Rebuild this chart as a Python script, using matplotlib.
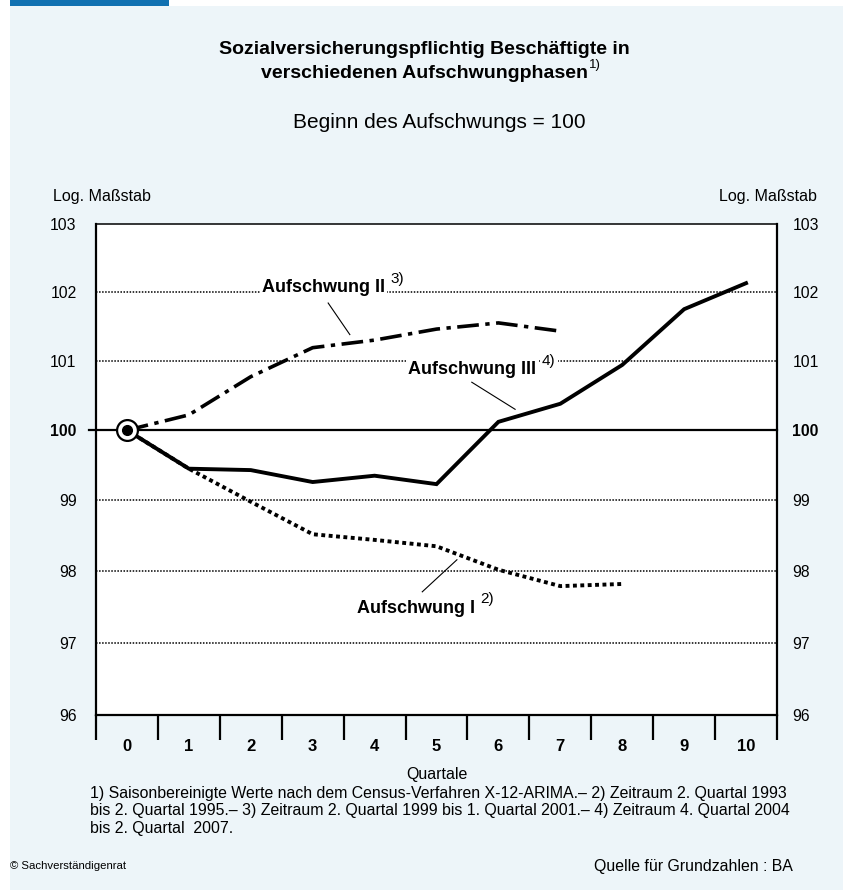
import matplotlib
matplotlib.use("Agg")
import matplotlib.pyplot as plt
from matplotlib.patches import Rectangle
from matplotlib.ticker import FixedLocator, NullLocator, NullFormatter

plt.rcParams["font.family"] = ["Liberation Sans", "DejaVu Sans"]

# quarters after start of upswing
quarters = list(range(11))
quarter_labels = [str(q) for q in quarters]

# index values, start of upswing = 100
aufschwung_1 = [100.0, 99.45, 98.98, 98.52, 98.44, 98.35, 98.02, 97.79, 97.82]
aufschwung_2 = [100.0, 100.22, 100.77, 101.19, 101.30, 101.46, 101.55, 101.43]
aufschwung_3 = [100.0, 99.45, 99.43, 99.26, 99.35, 99.23, 100.12, 100.38, 100.94, 101.75, 102.13]

y_ticks = [96, 97, 98, 99, 100, 101, 102, 103]
grid_levels = [97, 98, 99, 101, 102]

BG = "#edf5f9"
BLUE = "#1171b1"

fig = plt.figure(figsize=(8.43, 8.90), dpi=100, facecolor="white")
# light background panel and blue tab
fig.patches.append(Rectangle((10 / 843, 0), 1, 1 - 6 / 890, transform=fig.transFigure,
                             facecolor=BG, edgecolor="none", zorder=-10))
fig.patches.append(Rectangle((10 / 843, 1 - 6 / 890), 159 / 843, 6 / 890, transform=fig.transFigure,
                             facecolor=BLUE, edgecolor="none", zorder=-10))

ax = fig.add_axes([96 / 843, 1 - 715 / 890, 681 / 843, 491 / 890])
ax.set_facecolor("white")
ax.set_yscale("log")
ax.set_ylim(96, 103)
ax.set_xlim(-0.5, 10.5)

# grid lines
for lv in grid_levels:
    ax.axhline(lv, color="black", lw=1.1, ls=(0, (1, 1)), zorder=1)
ax.plot([-0.62, 10.5], [100, 100], color="black", lw=1.6, clip_on=False, zorder=2)

# series
ax.plot(quarters[:len(aufschwung_1)], aufschwung_1, color="black", lw=2.8,
        ls=(0, (1, 0.9)), dash_capstyle="butt", zorder=3)
ax.plot(quarters[:len(aufschwung_2)], aufschwung_2, color="black", lw=2.6,
        ls=(0, (6, 1.8, 1.2, 1.8)), dash_capstyle="butt", zorder=3)
ax.plot(quarters[:len(aufschwung_3)], aufschwung_3, color="black", lw=2.8,
        solid_joinstyle="miter", zorder=3)

# start marker
ax.plot([0], [100], marker="o", ms=15, mfc="white", mec="black", mew=1.6, zorder=5)
ax.plot([0], [100], marker="o", ms=7, mfc="black", mec="black", zorder=6)

# spines
for s in ["left", "right", "bottom"]:
    ax.spines[s].set_linewidth(1.6)
ax.spines["top"].set_linewidth(1.1)
ax.spines["top"].set_linestyle((0, (1, 1)))


def style_y(a):
    a.set_yscale("log")
    a.set_ylim(96, 103)
    a.yaxis.set_major_locator(FixedLocator(y_ticks))
    a.yaxis.set_minor_locator(NullLocator())
    a.yaxis.set_minor_formatter(NullFormatter())
    a.set_yticklabels([str(t) for t in y_ticks])
    for lab in a.get_yticklabels():
        if lab.get_text() == "100":
            lab.set_fontweight("bold")


# y axis labels on both sides
style_y(ax)
ax.tick_params(axis="y", which="both", length=0, labelsize=11.3, pad=14)
ax2 = ax.twinx()
style_y(ax2)
ax2.tick_params(axis="y", which="both", length=0, labelsize=11.3, pad=11)
for s in ax2.spines.values():
    s.set_visible(False)

# x axis: labels at centres, ticks at boundaries
ax.set_xticks(quarters)
ax.set_xticklabels(quarter_labels, fontweight="bold", fontsize=12)
ax.set_xticks([q - 0.5 for q in quarters] + [10.5], minor=True)
ax.tick_params(axis="x", which="major", length=0, pad=17)
ax.tick_params(axis="x", which="minor", length=18, width=1.6, direction="out")

# series labels with leader lines
box = dict(facecolor="white", edgecolor="none", pad=1.5)
labels = [
    ("Aufschwung II", "3)", (3.18, 102.06), (3.25, 101.84), (3.6, 101.38)),
    ("Aufschwung III", "4)", (5.58, 100.87), (5.57, 100.69), (6.27, 100.30)),
    ("Aufschwung I", "2)", (4.67, 97.48), (5.33, 98.16), (4.77, 97.71)),
]
for name, note, pos, p1, p2 in labels:
    t = ax.text(pos[0], pos[1], name, fontsize=13, fontweight="bold",
                ha="center", va="center", bbox=box, zorder=7)
    ax.annotate(note, xy=(1, 0.62), xycoords=t, xytext=(4, 0), textcoords="offset points",
                fontsize=11, va="bottom", ha="left", bbox=box, zorder=7)
    ax.plot([p1[0], p2[0]], [p1[1], p2[1]], color="black", lw=0.8, zorder=4)

# titles and texts
fig.text(0.503, 1 - 50 / 890, "Sozialversicherungspflichtig Beschäftigte in",
         ha="center", va="center", fontsize=14, fontweight="bold")
t2 = fig.text(0.503, 1 - 73 / 890, "verschiedenen Aufschwungphasen",
              ha="center", va="center", fontsize=14, fontweight="bold")
ax.annotate("1)", xy=(1, 0.62), xycoords=t2, xytext=(1, 0), textcoords="offset points",
            fontsize=9.5, va="bottom", ha="left", annotation_clip=False)
fig.text(0.521, 1 - 122 / 890, "Beginn des Aufschwungs = 100", ha="center", va="center", fontsize=15)

fig.text(53 / 843, 1 - 197 / 890, "Log. Maßstab", ha="left", va="center", fontsize=11.5)
fig.text(817 / 843, 1 - 197 / 890, "Log. Maßstab", ha="right", va="center", fontsize=11.5)

fig.text(437 / 843, 1 - 774 / 890, "Quartale", ha="center", va="center", fontsize=11.5)
foot = ("1) Saisonbereinigte Werte nach dem Census-Verfahren X-12-ARIMA.– 2) Zeitraum 2. Quartal 1993\n"
        "bis 2. Quartal 1995.– 3) Zeitraum 2. Quartal 1999 bis 1. Quartal 2001.– 4) Zeitraum 4. Quartal 2004\n"
        "bis 2. Quartal  2007.")
fig.text(90 / 843, 1 - 786 / 890, foot, ha="left", va="top", fontsize=11.4, linespacing=1.2)

fig.text(10 / 843, 1 - 866 / 890, "© Sachverständigenrat", ha="left", va="center", fontsize=8.2)
fig.text(793 / 843, 1 - 866 / 890, "Quelle für Grundzahlen : BA", ha="right", va="center", fontsize=11.4)

fig.savefig("out.png", dpi=100, facecolor=fig.get_facecolor())
